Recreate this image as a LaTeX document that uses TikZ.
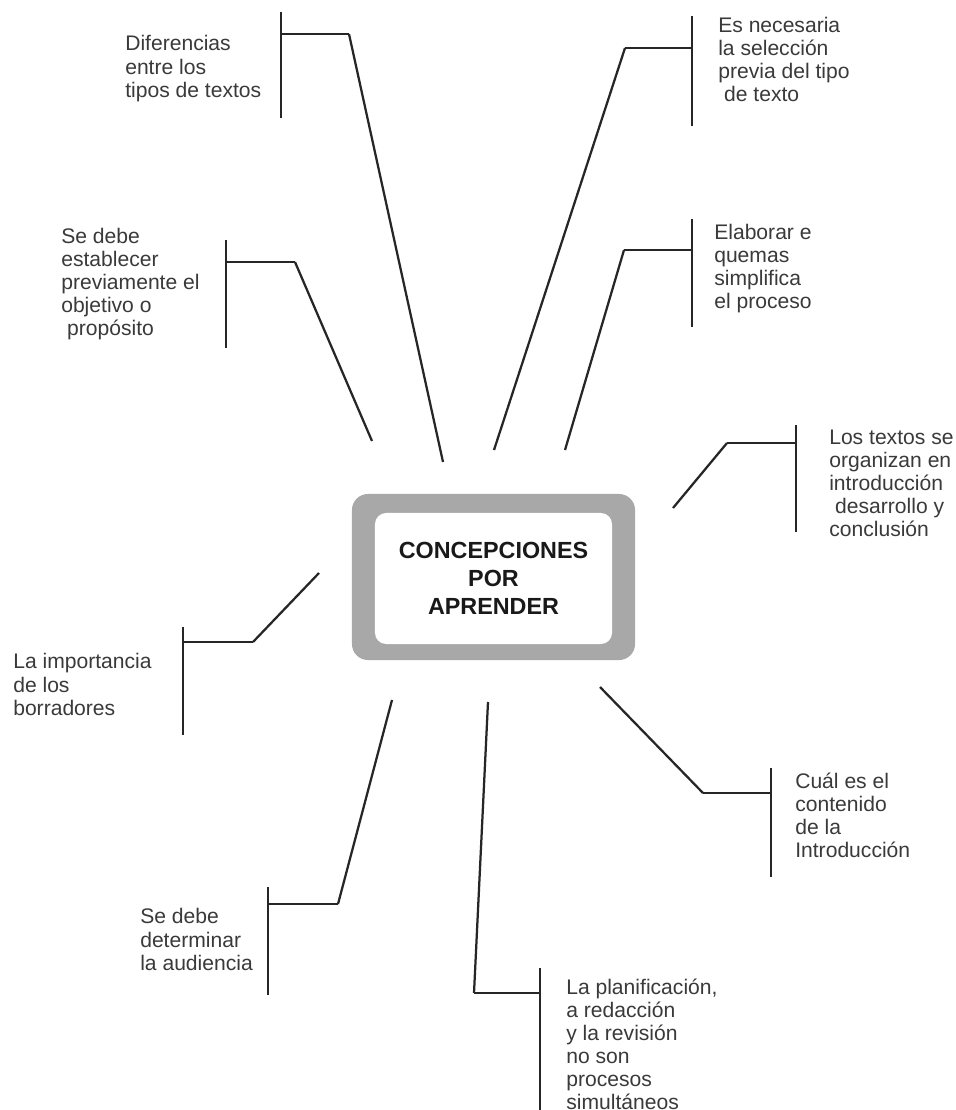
\documentclass[tikz,border=0pt]{standalone}
\usepackage{fontspec}
\setmainfont{Liberation Sans}

\definecolor{marco}{HTML}{A8A8A8}
\definecolor{tinta}{HTML}{262626}
\definecolor{letra}{HTML}{3A3A3A}

\tikzstyle{texto}= [anchor=base west,inner sep=0pt,align=left,text=letra,font=\fontsize{15}{16.4}\selectfont]
\tikzstyle{raya}= [tinta,line width=1.6pt]
\tikzstyle{borde}= [rectangle,rounded corners=0.4cm,fill=marco,minimum width=7.075cm,minimum height=4.15cm]
\tikzstyle{centro}= [rectangle,rounded corners=0.28cm,fill=white,minimum width=5.925cm,minimum height=3.275cm,align=center,text=black!90,font=\bfseries\fontsize{16.6}{20}\selectfont]

\begin{document}
\begin{tikzpicture}[x=0.025cm,y=-0.025cm]

		\fill[white] (0,0) rectangle (955,1110);
		\useasboundingbox (0,0) rectangle (955,1110);

		% caja central
		\node (m) at (493.5,577) [borde] {};
		\node (c) at (493.5,578.5) [centro] {CONCEPCIONES\\POR\\APRENDER};

		% textos (anclados en la linea base de la ultima linea)
		\node (t1) at (125,97.1) [texto] {Diferencias\\entre los\\tipos de textos};
		\node (t2) at (61,335.3) [texto] {Se debe\\establecer\\previamente el\\objetivo o\\\ propósito};
		\node (t3) at (718,101.2) [texto] {Es necesaria\\la selección\\previa del tipo\\\ de texto};
		\node (t4) at (714,308.2) [texto] {Elaborar e\\quemas\\simplifica\\el proceso};
		\node (t5) at (829,536.3) [texto] {Los textos se\\organizan en\\introducción\\\ desarrollo y\\conclusión};
		\node (t6) at (13,715.1) [texto] {La importancia\\de los\\borradores};
		\node (t7) at (140,970.1) [texto] {Se debe\\determinar\\la audiencia};
		\node (t8) at (566,1109.4) [texto] {La planificación,\\a redacción\\y la revisión\\no son\\procesos\\simultáneos};
		\node (t9) at (795,857.2) [texto] {Cuál es el\\contenido\\de la\\Introducción};

		% barras: arriba, abajo, union, codo, punta
		\coordinate (a1) at (281,12);   \coordinate (b1) at (281,118);
		\coordinate (u1) at (281,34);   \coordinate (k1) at (349,34);   \coordinate (p1) at (443,462);

		\coordinate (a2) at (226,240);  \coordinate (b2) at (226,348);
		\coordinate (u2) at (226,262);  \coordinate (k2) at (295,262);  \coordinate (p2) at (372,441);

		\coordinate (a3) at (692,16);   \coordinate (b3) at (692,126);
		\coordinate (u3) at (692,48);   \coordinate (k3) at (625,48);   \coordinate (p3) at (494,450);

		\coordinate (a4) at (692,219);  \coordinate (b4) at (692,327);
		\coordinate (u4) at (692,250);  \coordinate (k4) at (624,250);  \coordinate (p4) at (565,450);

		\coordinate (a5) at (796,425);  \coordinate (b5) at (796,532);
		\coordinate (u5) at (796,443);  \coordinate (k5) at (727,443);  \coordinate (p5) at (673,508);

		\coordinate (a6) at (183,627);  \coordinate (b6) at (183,735);
		\coordinate (u6) at (183,642);  \coordinate (k6) at (253,642);  \coordinate (p6) at (319,573);

		\coordinate (a7) at (268,887);  \coordinate (b7) at (268,995);
		\coordinate (u7) at (268,904);  \coordinate (k7) at (338,904);  \coordinate (p7) at (392,700);

		\coordinate (a8) at (540,968);  \coordinate (b8) at (540,1110);
		\coordinate (u8) at (540,993);  \coordinate (k8) at (474,993);  \coordinate (p8) at (488,702);

		\coordinate (a9) at (771,768);  \coordinate (b9) at (771,877);
		\coordinate (u9) at (771,793);  \coordinate (k9) at (703,793);  \coordinate (p9) at (600,687);

		\foreach \i in {1,...,9}{
			\path[raya] (a\i) edge (b\i);
			\path[raya] (u\i) edge (k\i);
			\path[raya] (k\i) edge (p\i);
		}

	\end{tikzpicture}
\end{document}
